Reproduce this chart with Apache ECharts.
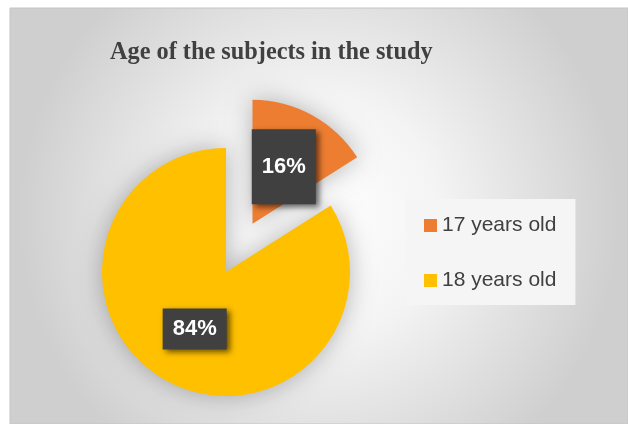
<!DOCTYPE html>
<html lang="en">
<head>
    <meta charset="UTF-8">
    <title>Age of the subjects in the study</title>
    <script src="https://cdn.jsdelivr.net/npm/echarts@6/dist/echarts.min.js"></script>
    <style>
        html, body { margin: 0; padding: 0; background: #fff; }
    </style>
</head>
<body>
    <div id="main" style="width: 628px;height:424px;"></div>
    <script>
        // data
        var ageNames = ['17 years old', '18 years old'];
        var ageValues = [16, 84];
        var ageColors = ['#ED7D31', '#FFC000'];

        var labelBox = {
            show: true,
            position: 'inside',
            formatter: '{d}%',
            color: '#fff',
            fontFamily: 'Liberation Sans',
            fontWeight: 'bold',
            fontSize: 22,
            lineHeight: 22,
            backgroundColor: '#404040',
            shadowBlur: 6,
            shadowOffsetX: 3,
            shadowOffsetY: 3,
            shadowColor: 'rgba(0,0,0,0.6)'
        };

        var pieData = ageNames.map(function (n, i) {
            var item = {
                name: n,
                value: ageValues[i],
                itemStyle: { color: ageColors[i] }
            };
            if (i === 0) {
                item.selected = true;
                item.label = { padding: [14, 10, 39, 10] };
            } else {
                item.label = { padding: [10, 10, 9, 10] };
            }
            return item;
        });

        var myChart = echarts.init(document.getElementById('main'));
        var option = {
            animation: false,
            graphic: [{
                type: 'rect',
                z: -10,
                silent: true,
                shape: { x: 10, y: 8, width: 618, height: 416 },
                style: {
                    fill: {
                        type: 'radial', x: 0.5, y: 0.5, r: 0.72,
                        colorStops: [
                            { offset: 0, color: '#ffffff' },
                            { offset: 0.4, color: '#f4f4f4' },
                            { offset: 1, color: '#cfcfcf' }
                        ]
                    },
                    stroke: '#c4c4c4',
                    lineWidth: 1
                }
            }],
            title: {
                text: 'Age of the subjects in the study',
                left: 105,
                top: 36,
                textStyle: {
                    fontFamily: 'Liberation Serif',
                    fontWeight: 'bold',
                    fontSize: 24.3,
                    color: '#404040'
                }
            },
            legend: {
                orient: 'vertical',
                left: 406,
                top: 199,
                padding: [16, 19, 14, 18],
                backgroundColor: '#f5f5f5',
                itemWidth: 13,
                itemHeight: 13,
                itemGap: 34,
                icon: 'rect',
                selectedMode: false,
                textStyle: {
                    fontFamily: 'Liberation Sans',
                    fontSize: 21,
                    lineHeight: 20,
                    color: '#404040'
                },
                data: ageNames
            },
            series: [{
                type: 'pie',
                center: [226, 272],
                radius: 124,
                startAngle: 90,
                clockwise: true,
                selectedMode: 'single',
                selectedOffset: 55,
                avoidLabelOverlap: false,
                itemStyle: {
                    shadowBlur: 24,
                    shadowColor: 'rgba(0,0,0,0.28)'
                },
                label: labelBox,
                labelLine: { show: false },
                data: pieData
            }]
        };
        myChart.setOption(option);
    </script>
</body>
</html>
